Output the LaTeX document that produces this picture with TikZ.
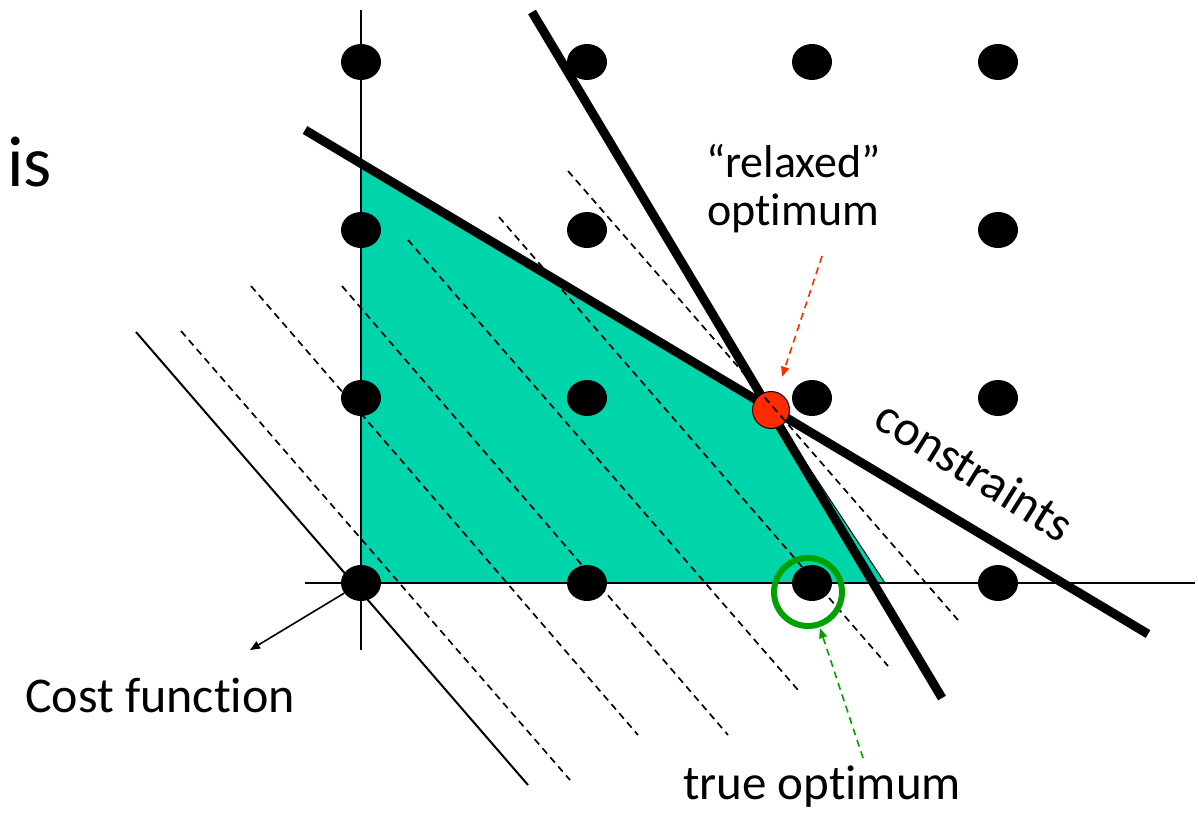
\documentclass[tikz,border=0pt]{standalone}
\usepackage{fontspec}
\setmainfont{Carlito}[Ligatures={NoCommon,NoRequired,NoContextual}]
\usetikzlibrary{arrows.meta,shapes.geometric}
\definecolor{feasible}{RGB}{0,212,170}
\definecolor{relaxred}{RGB}{255,42,0}
\definecolor{truegreen}{RGB}{0,160,0}
\begin{document}
\begin{tikzpicture}[x=1pt,y=-1pt,
  gdot/.style={ellipse,fill=black,minimum width=40pt,minimum height=36pt,inner sep=0pt},
  consline/.style={line width=9pt},
  axisline/.style={line width=2pt},
  costdash/.style={line width=1.7pt,dash pattern=on 7pt off 5pt},
  lbl/.style={font=\fontsize{50}{54}\selectfont,inner sep=0pt},
  smalllbl/.style={font=\fontsize{46}{50}\selectfont,inner sep=0pt},
  notearrow/.style={line width=1.6pt,dash pattern=on 7pt off 5pt,-{Triangle[length=10pt,width=8pt]}},
]
\useasboundingbox (0,0) rectangle (1198,813);
% feasible region
\fill[feasible,draw=black,line width=1pt] (361,162)--(771,410)--(885,583)--(361,583)--cycle;
% axes
\draw[axisline] (361,10)--(361,650);
\draw[axisline] (305,583)--(1195,583);
% cost function line
\draw[line width=2pt] (136,332)--(528,785);
% constraints
\draw[consline] (305,130)--(1148,634);
\draw[consline] (532,12)--(942,698);
% relaxed optimum
\node[circle,fill=relaxred,draw=black,line width=1pt,minimum size=37pt,inner sep=0pt] (relaxed) at (771,410) {};
% iso-cost dashed lines
\draw[costdash] (181,331)--(570,780);
\draw[costdash] (251,286)--(638,735);
\draw[costdash] (342,286)--(728,735);
\draw[costdash] (408,240)--(798,690);
\draw[costdash] (499,217)--(888,666);
\draw[costdash] (568,171)--(958,620);
% integer grid points
\foreach \i/\x in {0/361,1/587,2/812,3/998}{
  \foreach \j/\y in {0/583,1/398,3/62}{
    \node[gdot] (d\i\j) at (\x,\y) {};
  }
}
\node[gdot] (d02) at (361,230) {};
\node[gdot] (d12) at (587,230) {};
\node[gdot] (d32) at (998,230) {};
% true optimum ring
\node[circle,draw=truegreen,line width=6pt,minimum size=68pt,inner sep=0pt] (trueopt) at (808,592) {};
% labels
\node[lbl,anchor=base west] (isword) at (7,186) {\fontsize{72}{76}\selectfont is};
\node[smalllbl,anchor=base west] (relax1) at (706,178) {“relaxed”};
\node[smalllbl,anchor=base west] (relax2) at (707,225) {optimum};
\node[lbl,anchor=base west] (costlbl) at (25,712) {Cost function};
\node[lbl,anchor=base west,font=\fontsize{49}{53}\selectfont] (truelbl) at (683,799) {true optimum};
\node[lbl,rotate=-32] (conslbl) at (975,470) {constraints};
% arrows
\coordinate (rstart) at (822,256);
\coordinate (gstart) at (863,758);
\coordinate (costtip) at (250,650);
\draw[notearrow,relaxred,shorten >=16pt] (rstart)--(relaxed);
\draw[notearrow,truegreen,shorten >=1pt] (gstart)--(trueopt);
\draw[line width=1.6pt,-{Triangle[length=10pt,width=8pt]}] (d00)--(costtip);
\end{tikzpicture}
\end{document}
